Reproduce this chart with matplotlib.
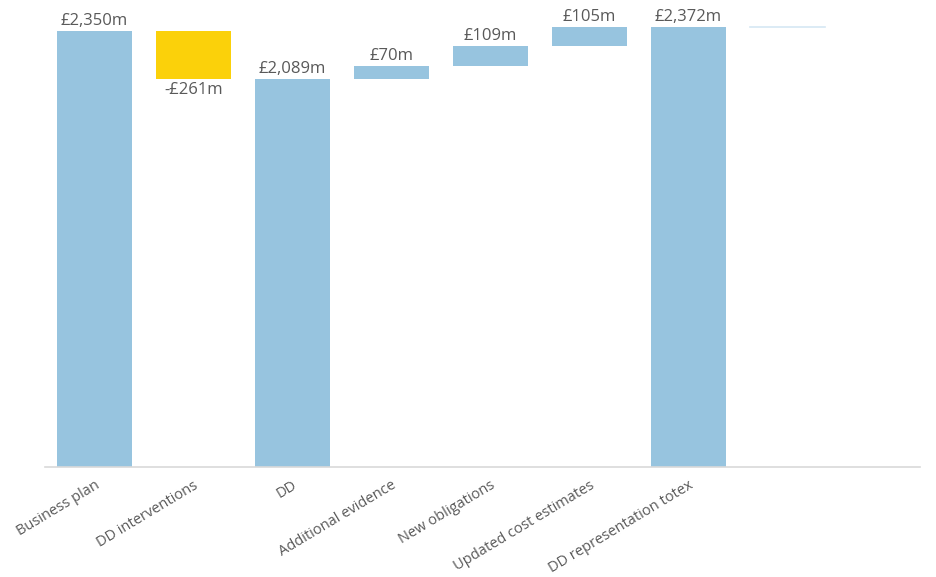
import matplotlib
matplotlib.use("Agg")
import matplotlib.pyplot as plt

categories = ["Business plan", "DD interventions", "DD", "Additional evidence",
              "New obligations", "Updated cost estimates", "DD representation totex", ""]
values = [2350, -261, 2089, 70, 109, 105, 2372, 0]
kinds = ["total", "delta", "total", "delta", "delta", "delta", "total", "end"]
labels = ["£2,350m", "-£261m", "£2,089m", "£70m", "£109m", "£105m", "£2,372m", ""]

blue = "#97c4df"
yellow = "#fbd10a"
text_col = "#595959"

plt.rcParams['font.family'] = ['Open Sans', 'DejaVu Sans']

fig = plt.figure(figsize=(9.37, 5.77), dpi=100)
ax = fig.add_axes([45/937, 110/577, 875/937, 467/577])

running = 0
for i, (v, k, lab) in enumerate(zip(values, kinds, labels)):
    if k == "total":
        bottom, height = 0, v
        running = v
        color = blue
    elif k == "end":
        ax.plot([i - 0.38, i + 0.38], [running, running], color="#d6e8f3", lw=1.2)
        continue
    else:
        if v >= 0:
            bottom, height = running, v
            color = blue
        else:
            bottom, height = running + v, -v
            color = yellow
        running += v
    ax.bar(i, height, bottom=bottom, width=0.76, color=color, edgecolor="none")
    if k == "delta" and v < 0:
        ax.text(i, bottom - 14, lab, ha="center", va="top", fontsize=12, color=text_col)
    else:
        ax.text(i, bottom + height + 10, lab, ha="center", va="bottom", fontsize=12, color=text_col)

ax.set_xlim(-0.5, 8.34)
ax.set_ylim(0, 2516)
ax.set_xticks(range(len(categories)))
ax.set_xticklabels(categories, rotation=31, ha="right", rotation_mode="anchor",
                   fontsize=10.5, color=text_col)
ax.tick_params(axis="x", length=0, pad=8)
ax.set_yticks([])
for s in ["top", "right", "left"]:
    ax.spines[s].set_visible(False)
ax.spines["bottom"].set_color("#d9d9d9")
ax.spines["bottom"].set_linewidth(1.2)

fig.savefig("out.png", dpi=100)
